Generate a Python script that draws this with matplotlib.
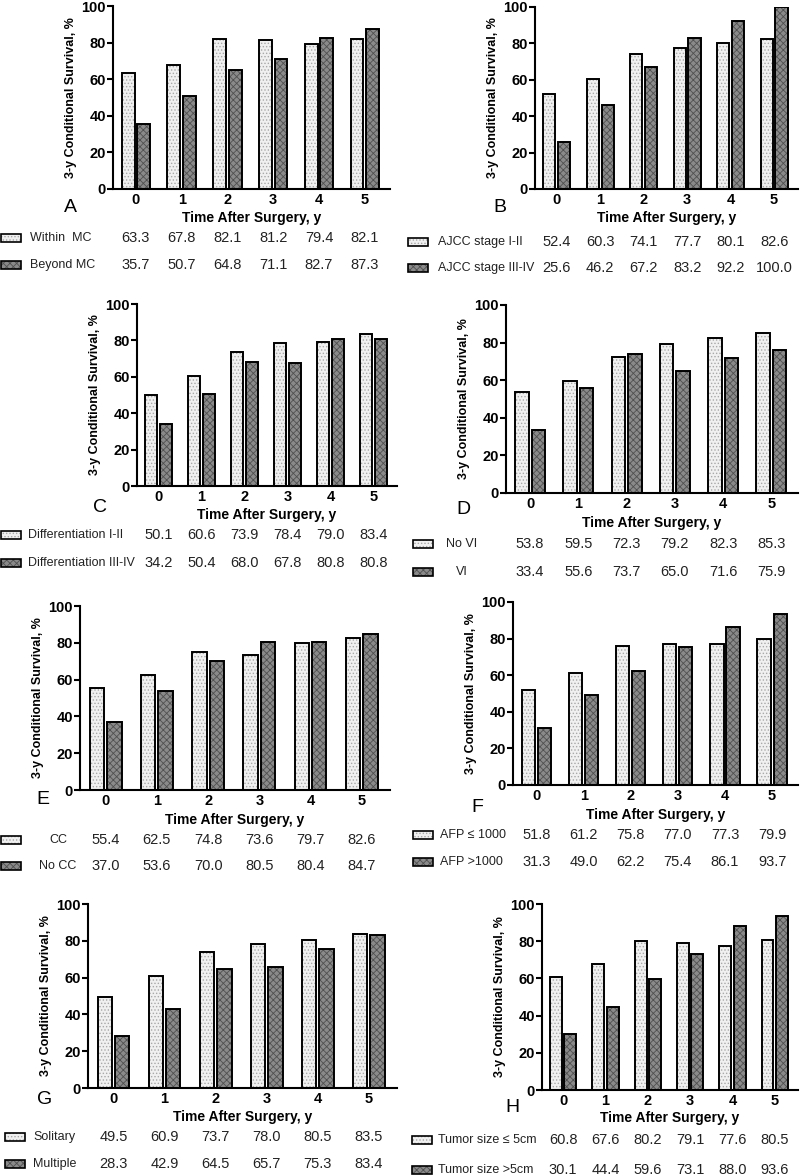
import numpy as np
import matplotlib
matplotlib.use('Agg')
import matplotlib.pyplot as plt
from matplotlib.patches import Rectangle
import matplotlib.transforms as mtransforms

plt.rcParams['font.family'] = ['Liberation Sans', 'DejaVu Sans']
plt.rcParams['hatch.linewidth'] = 0.6

# Data (3-y conditional survival, %)
years = [0, 1, 2, 3, 4, 5]

within_mc = [63.3, 67.8, 82.1, 81.2, 79.4, 82.1]
beyond_mc = [35.7, 50.7, 64.8, 71.1, 82.7, 87.3]

ajcc_1_2 = [52.4, 60.3, 74.1, 77.7, 80.1, 82.6]
ajcc_3_4 = [25.6, 46.2, 67.2, 83.2, 92.2, 100.0]

diff_1_2 = [50.1, 60.6, 73.9, 78.4, 79.0, 83.4]
diff_3_4 = [34.2, 50.4, 68.0, 67.8, 80.8, 80.8]

no_vi = [53.8, 59.5, 72.3, 79.2, 82.3, 85.3]
vi = [33.4, 55.6, 73.7, 65.0, 71.6, 75.9]

cc = [55.4, 62.5, 74.8, 73.6, 79.7, 82.6]
no_cc = [37.0, 53.6, 70.0, 80.5, 80.4, 84.7]

afp_low = [51.8, 61.2, 75.8, 77.0, 77.3, 79.9]
afp_high = [31.3, 49.0, 62.2, 75.4, 86.1, 93.7]

solitary = [49.5, 60.9, 73.7, 78.0, 80.5, 83.5]
multiple = [28.3, 42.9, 64.5, 65.7, 75.3, 83.4]

size_small = [60.8, 67.6, 80.2, 79.1, 77.6, 80.5]
size_large = [30.1, 44.4, 59.6, 73.1, 88.0, 93.6]

panels = [
    ('A', 'Within  MC', 'Beyond MC', within_mc, beyond_mc),
    ('B', 'AJCC stage I-II', 'AJCC stage III-IV', ajcc_1_2, ajcc_3_4),
    ('C', 'Differentiation I-II', 'Differentiation III-IV', diff_1_2, diff_3_4),
    ('D', 'No VI', 'VI', no_vi, vi),
    ('E', 'CC', 'No CC', cc, no_cc),
    ('F', 'AFP \u2264 1000', 'AFP >1000', afp_low, afp_high),
    ('G', 'Solitary', 'Multiple', solitary, multiple),
    ('H', 'Tumor size \u2264 5cm', 'Tumor size >5cm', size_small, size_large),
]

# layout in pixels: axes left, right, top, bottom; letter x, y; xlabel y;
# row1 y, row2 y; patch x; label x; label centered?
layout = {
    'A': (113, 390, 6, 189, 70, 207, 218, 238, 265, 1, 30, False),
    'B': (535, 798, 7, 189, 500, 207, 218, 242, 268, 408, 438, False),
    'C': (137, 397, 304, 486, 100, 508, 515, 535, 563, 1, 28, False),
    'D': (506, 798, 305, 493, 463, 509, 523, 544, 572, 413, 462, True),
    'E': (80, 390, 606, 790, 43, 800, 820, 840, 866, 1, 58, True),
    'F': (513, 798, 602, 785, 477, 808, 815, 835, 862, 413, 440, False),
    'G': (88, 397, 904, 1088, 45, 1100, 1117, 1137, 1164, 5, 33, False),
    'H': (542, 798, 904, 1090, 512, 1108, 1118, 1140, 1170, 412, 438, False),
}

W, H = 800, 1175
fig = plt.figure(figsize=(W / 100, H / 100), dpi=100)

light = dict(face='#f0f0f0', hatch='.....', hcol='#a8a8a8')
dark = dict(face='#8a8a8a', hatch='xxxxx', hcol='#505050')
bw = 0.28
x = np.arange(len(years))


def draw_bars(ax, xs, vals, style):
    ax.bar(xs, vals, bw, color=style['face'], hatch=style['hatch'],
           edgecolor=style['hcol'], linewidth=0, zorder=2)
    ax.bar(xs, vals, bw, fill=False, edgecolor='black', linewidth=1.4, zorder=3)


def legend_patch(px, py, style):
    w, h = 20, 8
    r = Rectangle((px / W, 1 - (py + h / 2) / H), w / W, h / H,
                  transform=fig.transFigure, facecolor=style['face'],
                  hatch=style['hatch'], edgecolor=style['hcol'], linewidth=0)
    fig.add_artist(r)
    r2 = Rectangle((px / W, 1 - (py + h / 2) / H), w / W, h / H,
                   transform=fig.transFigure, fill=False,
                   edgecolor='black', linewidth=1.2)
    fig.add_artist(r2)


for letter, lab1, lab2, s1, s2 in panels:
    (l, r, t, b, lx, ly, xly, r1y, r2y, patx, labx, center) = layout[letter]
    ax = fig.add_axes([l / W, 1 - b / H, (r - l) / W, (b - t) / H])
    draw_bars(ax, x - 0.17, s1, light)
    draw_bars(ax, x + 0.17, s2, dark)
    ax.set_xlim(-0.5, 5.55)
    ax.set_ylim(0, 100)
    ax.set_yticks([0, 20, 40, 60, 80, 100])
    ax.set_xticks(x)
    ax.set_xticklabels([str(v) for v in years])
    for sp in ['top', 'right']:
        ax.spines[sp].set_visible(False)
    for sp in ['left', 'bottom']:
        ax.spines[sp].set_linewidth(1.5)
    ax.tick_params(axis='y', length=4, width=1.5, labelsize=10.5, pad=1)
    ax.tick_params(axis='x', length=0, labelsize=10.5, pad=3)
    for tl in ax.get_xticklabels() + ax.get_yticklabels():
        tl.set_fontweight('bold')
    ax.set_ylabel('3-y Conditional Survival, %', fontsize=9,
                  fontweight='bold', labelpad=3)

    # x label and panel letter
    fig.text((l + r) / 2 / W, 1 - xly / H, 'Time After Surgery, y',
             ha='center', va='center', fontsize=10, fontweight='bold')
    fig.text(lx / W, 1 - ly / H, letter, ha='center', va='center',
             fontsize=14)

    # table rows under the chart
    tr = mtransforms.blended_transform_factory(ax.transData, fig.transFigure)
    for ry, lab, vals, style in [(r1y, lab1, s1, light), (r2y, lab2, s2, dark)]:
        legend_patch(patx, ry, style)
        if center:
            fig.text(labx / W, 1 - ry / H, lab, ha='center', va='center',
                     fontsize=9, color='#222222')
        else:
            fig.text(labx / W, 1 - ry / H, lab, ha='left', va='center',
                     fontsize=9, color='#222222')
        for xi, v in zip(x, vals):
            ax.text(xi, 1 - ry / H, f'{v:.1f}', transform=tr, ha='center',
                    va='center', fontsize=10.5, color='#222222')

fig.savefig('out.png', dpi=100)
